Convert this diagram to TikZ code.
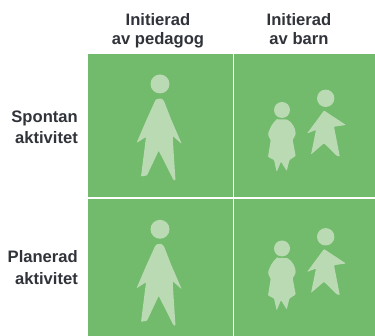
\documentclass[tikz,border=0pt]{standalone}
\usepackage{fontspec}
\setmainfont{Liberation Sans}
\definecolor{panel}{HTML}{72BA6C}
\definecolor{figure}{HTML}{B9DAB2}
\definecolor{ink}{HTML}{30343A}
\tikzset{
  panelbox/.style={fill=panel,draw=none},
  silhouette/.style={fill=figure,draw=none,rounded corners=0.8},
  lab/.style={text=ink,font=\fontsize{16.6}{18.3}\selectfont\bfseries,inner sep=0pt,align=center},
  side/.style={text=ink,font=\fontsize{16.6}{21}\selectfont\bfseries,inner sep=0pt,align=right},
  adult/.pic={
    \fill[figure] (160,84) circle (9.5);
    \fill[silhouette] (156.5,99) -- (161.5,98.5) -- (164,101) -- (171,119) -- (181.8,144) -- (172.7,136) -- (173.5,150) -- (175.5,180.5) -- (173.5,180) -- (158.7,150.7) -- (147,175.5) -- (141,176.5) -- (146,137) -- (136.5,143) -- (146.4,120) -- (155,101) -- cycle;
  },
  kids/.pic={
    \fill[figure] (282,110) circle (8);
    \fill[figure] (325.7,98.3) circle (8.7);
    \fill[silhouette] (277,119.5) -- (287,119.5) .. controls (292,122) and (296,129) .. (295.5,134) .. controls (295,137) and (293,139) .. (292.7,140) -- (295.7,156) -- (289.5,160) -- (286.7,171) -- (281,161.7) -- (276.7,172) -- (274,160) -- (268,157) -- (270.7,140) .. controls (269,138) and (268,135) .. (268.3,133) .. controls (270,128) and (273,122) .. (277,119.5) -- cycle;
    \fill[silhouette] (324,110.5) -- (346,125) -- (334,126.7) -- (339.8,156.5) -- (337,156) -- (324,143.3) -- (311,154.5) -- (316,130) -- (307,133.5) -- cycle;
  }
}
\begin{document}
\begin{tikzpicture}[x=1pt,y=-1pt]
\useasboundingbox (0,0) rectangle (375,336);
\fill[white] (0,0) rectangle (375,336);
\fill[panelbox] (88,54) rectangle (232.5,197);
\fill[panelbox] (234,54) rectangle (375,197);
\fill[panelbox] (88,199) rectangle (232.5,336);
\fill[panelbox] (234,199) rectangle (375,336);
\pic at (0,0) {adult};
\pic at (0,145.3) {adult};
\pic at (0,0) {kids};
\pic at (0,138.5) {kids};
\node[lab,anchor=base] (h1) at (158,44.3) {Initierad\\av pedagog};
\node[lab,anchor=base] (h2) at (299,44.3) {Initierad\\av barn};
\node[side,anchor=base east] (s1) at (78,143.3) {Spontan\\aktivitet};
\node[side,anchor=base east] (s2) at (78,285) {Planerad\\[1.5pt]aktivitet};
\end{tikzpicture}
\end{document}
